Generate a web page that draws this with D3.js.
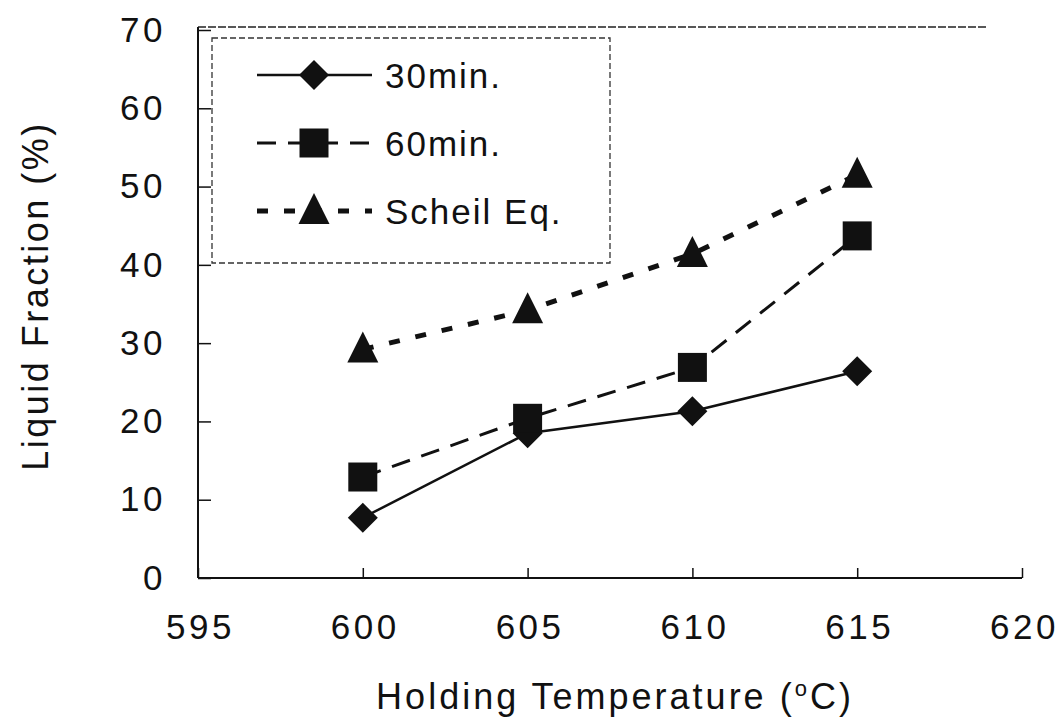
<!DOCTYPE html>
<html>
<head>
<meta charset="utf-8">
<script src="https://cdn.jsdelivr.net/npm/d3@7"></script>
<style>
  body { margin: 0; background: #fff; }
  text { font-family: "Liberation Sans", Arial, sans-serif; fill: #111; }
</style>
</head>
<body>
<svg id="chart" width="1060" height="720"></svg>
<script>
// data
const temps = [600, 605, 610, 615];
const min30 = [7.7, 18.5, 21.3, 26.4];
const min60 = [12.9, 20.4, 26.9, 43.7];
const scheil = [29.2, 34.2, 41.4, 51.5];
const seriesNames = ["30min.", "60min.", "Scheil Eq."];
const xTicks = [595, 600, 605, 610, 615, 620];
const yTicks = [0, 10, 20, 30, 40, 50, 60, 70];

const svg = d3.select("#chart");
const m = { left: 198, right: 1022, top: 30, bottom: 578 };

const x = d3.scaleLinear().domain([595, 620]).range([m.left, m.right]);
const y = d3.scaleLinear().domain([0, 70]).range([m.bottom, m.top]);

// top border, broken dashes like the scan
svg.append("line")
  .attr("x1", m.left).attr("x2", 987).attr("y1", 27).attr("y2", 27)
  .attr("stroke", "#222").attr("stroke-width", 1.5).attr("stroke-dasharray", "8,2");

// axes with inward ticks
const xAxis = d3.axisBottom(x).tickValues(xTicks).tickSize(-10).tickPadding(36).tickFormat(d3.format("d"));
const yAxis = d3.axisLeft(y).tickValues(yTicks).tickSize(-13).tickPadding(36);

const gx = svg.append("g").attr("transform", `translate(0,${m.bottom})`).call(xAxis);
const gy = svg.append("g").attr("transform", `translate(${m.left},0)`).call(yAxis);
[gx, gy].forEach(g => {
  g.select(".domain").attr("stroke", "#111").attr("stroke-width", 2);
  g.selectAll(".tick line").attr("stroke", "#111").attr("stroke-width", 1.5);
  g.selectAll(".tick text").attr("font-size", 35).attr("fill", "#111")
    .attr("letter-spacing", 3.5)
    .style("font-family", "'Liberation Sans', Arial, sans-serif");
});
gx.selectAll(".tick text").attr("dx", 2);
gy.selectAll(".tick text").attr("dx", 4);
gy.select(".domain").attr("d", `M0,${m.bottom}V27`);
gx.select(".domain").attr("d", `M${m.left},0H${m.right}`);

// axis titles
svg.append("text")
  .attr("transform", `translate(48,${296}) rotate(-90)`)
  .attr("text-anchor", "middle").attr("font-size", 36)
  .attr("letter-spacing", 2.5)
  .text("Liquid Fraction (%)");

const xt = svg.append("text")
  .attr("x", 615).attr("y", 709)
  .attr("text-anchor", "middle").attr("font-size", 36)
  .attr("letter-spacing", 3);
xt.append("tspan").text("Holding Temperature (");
xt.append("tspan").attr("font-size", 22).attr("dy", -13).text("o");
xt.append("tspan").attr("dy", 13).text("C)");

// series
const markers = {
  diamond: "M0,-15L15,0L0,15L-15,0Z",
  square: "M-14.5,-14.5H14.5V14.5H-14.5Z",
  triangle: "M0,-18L15.5,13L-15.5,13Z"
};
const styles = [
  { vals: min30, dash: null, width: 2.5, mk: markers.diamond },
  { vals: min60, dash: "19,12", width: 3, mk: markers.square },
  { vals: scheil, dash: "11,16", width: 5, mk: markers.triangle }
];

const line = d3.line().x((d, i) => x(temps[i])).y(d => y(d));

styles.forEach(s => {
  svg.append("path")
    .attr("d", line(s.vals))
    .attr("fill", "none").attr("stroke", "#111")
    .attr("stroke-width", s.width)
    .attr("stroke-dasharray", s.dash);
});

styles.forEach(s => {
  svg.selectAll(null).data(s.vals).join("path")
    .attr("transform", (d, i) => `translate(${x(temps[i])},${y(d)})`)
    .attr("d", s.mk)
    .attr("fill", "#111");
});

// legend
const lg = svg.append("g");
lg.append("rect")
  .attr("x", 212).attr("y", 38).attr("width", 398).attr("height", 225)
  .attr("fill", "#fff").attr("stroke", "#333").attr("stroke-width", 1.3)
  .attr("stroke-dasharray", "6,3");
const rowsY = [75, 143, 211];
styles.forEach((s, i) => {
  lg.append("line")
    .attr("x1", 257).attr("x2", 372).attr("y1", rowsY[i]).attr("y2", rowsY[i])
    .attr("stroke", "#111").attr("stroke-width", s.width)
    .attr("stroke-dasharray", s.dash);
  lg.append("path")
    .attr("transform", `translate(314,${rowsY[i]})`)
    .attr("d", s.mk)
    .attr("fill", "#111");
  lg.append("text")
    .attr("x", 385).attr("y", rowsY[i] + 13)
    .attr("font-size", 35)
    .attr("letter-spacing", 2)
    .text(seriesNames[i]);
});
</script>
</body>
</html>
